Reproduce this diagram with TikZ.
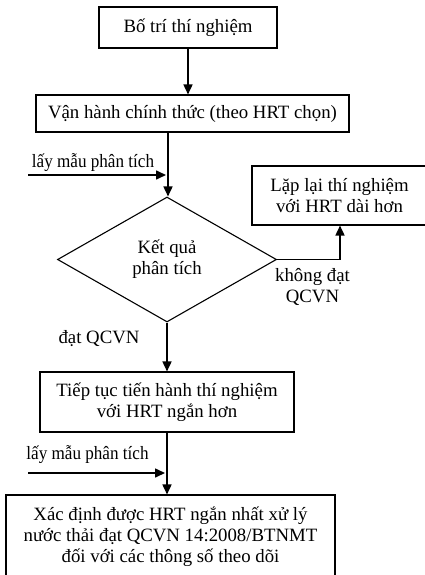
\documentclass[tikz,border=0pt]{standalone}
\usepackage{fontspec}
\usepackage{graphicx}
\setmainfont{Liberation Serif}
\usetikzlibrary{shapes.geometric,arrows.meta}
\newcommand{\narrowtext}[1]{\scalebox{0.91}[1]{#1}}
\begin{document}
\begin{tikzpicture}[x=1pt,y=-1pt,
  every node/.style={font=\fontsize{18.8}{21}\selectfont, inner sep=0pt, align=center},
  box/.style={draw, line width=1.1pt, rectangle},
  conn/.style={line width=1.6pt, -{Triangle[length=10pt,width=9pt]}},
  plain/.style={line width=1.6pt}]
\useasboundingbox (0,0) rectangle (425,575);
\clip (0,0) rectangle (425,575);
\node[box, minimum width=178, minimum height=41] (b1) at (188,27.5) {Bố trí thí nghiệm};
\node[box, minimum width=313, minimum height=37] (b2) at (192.5,113.5) {Vận hành chính thức (theo HRT chọn)};
\node[diamond, draw, line width=1.1pt, minimum width=219, minimum height=125, aspect=1.75] (d) at (167,259.5) {Kết quả\\phân tích};
\node[box, minimum width=175, minimum height=59] (b5) at (339.5,195.5) {Lặp lại thí nghiệm\\với HRT dài hơn};
\node[box, minimum width=254, minimum height=60] (b3) at (167,402) {Tiếp tục tiến hành thí nghiệm\\với HRT ngắn hơn};
\node[box, minimum width=329, minimum height=83] (b4) at (170.5,536.5) {Xác định được HRT ngắn nhất xử lý\\nước thải đạt QCVN 14:2008/BTNMT\\đối với các thông số theo dõi};
% connectors
\draw[conn] (b1.south) -- (b1.south |- b2.north);
\coordinate (c2) at (168,132);
\draw[conn] (c2) -- (c2 |- d.north);
\coordinate (s1) at (28,175);
\draw[conn] (s1) -- (166,175);
\node (l1) at (93,162.5) {\narrowtext{lấy mẫu phân tích}};
\coordinate (rt) at (340,259.5);
\draw[plain] (d.east) -- (rt);
\draw[conn] (rt) -- (rt |- b5.south);
\node (l2) at (312.5,287) {không đạt\\QCVN};
\draw[conn] (d.south) -- (d.south |- b3.north);
\node (l3) at (99,339) {đạt QCVN};
\draw[conn] (b3.south) -- (b3.south |- b4.north);
\coordinate (s2) at (28,473);
\draw[conn] (s2) -- (165,473);
\node (l4) at (87.5,454.5) {\narrowtext{lấy mẫu phân tích}};
\end{tikzpicture}
\end{document}
